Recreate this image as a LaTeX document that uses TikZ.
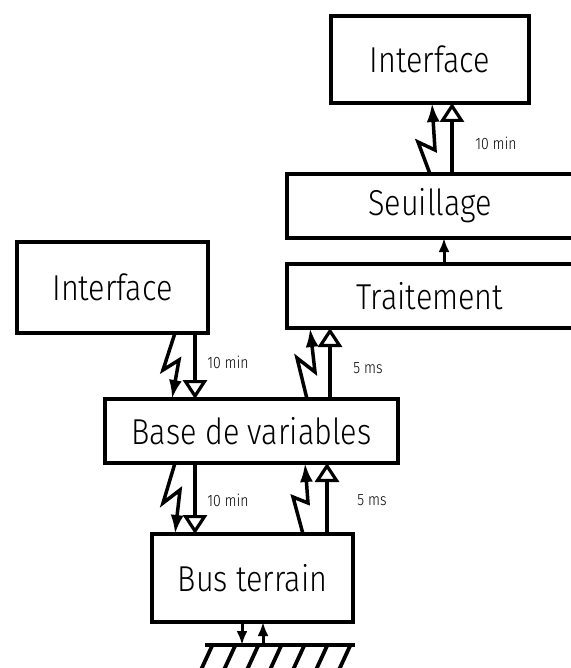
\documentclass[tikz,border=0pt]{standalone}
\usepackage{fontspec}
\setmainfont{Fira Sans}[UprightFont=* Light, FakeStretch=0.85]
\usetikzlibrary{arrows.meta,calc}
\begin{document}
\begin{tikzpicture}[x=1pt,y=-1pt,
  box/.style={draw,line width=4pt,rectangle,inner sep=0pt,outer sep=0pt,
    font=\fontsize{36}{40}\selectfont},
  openbox/.style={rectangle,inner sep=0pt,outer sep=0pt,
    font=\fontsize{36}{40}\selectfont},
  sideline/.style={line width=4pt,line cap=rect},
  bolt/.style={line width=3.5pt,line join=miter,-{Latex[length=19pt,width=13pt]}},
  hollow/.style={line width=3.2pt,-{Triangle[open,length=19pt,width=24pt,fill=white]}},
  small/.style={line width=3pt,-{Latex[length=14pt,width=11pt]}},
  lab/.style={font=\fontsize{16.5}{18}\selectfont,inner sep=0pt},
  ground/.style={line width=4pt},
  hatch/.style={line width=3.8pt}]
\useasboundingbox (0,0) rectangle (570,668);
% boxes
\node[box,minimum width=198pt,minimum height=87pt] (itop) at (430,59.5) {Interface};
\node[openbox,minimum width=286pt,minimum height=64pt] (seu) at (430,206) {Seuillage};
\node[openbox,minimum width=286pt,minimum height=64pt] (tra) at (430,296) {Traitement};
\draw[sideline] ([xshift=20]seu.north east) -- (seu.north west) -- (seu.south west) -- ([xshift=20]seu.south east);
\draw[sideline] ([xshift=20]tra.north east) -- (tra.north west) -- (tra.south west) -- ([xshift=20]tra.south east);
\node[box,minimum width=191pt,minimum height=91pt] (ileft) at (112.5,287.5) {Interface};
\node[box,minimum width=293pt,minimum height=64pt] (base) at (251.5,431) {Base de variables};
\node[box,minimum width=201pt,minimum height=88pt] (bus) at (252.5,578) {Bus terrain};
% Seuillage -> Interface
\draw[bolt] (seu.north) -- (418,142) -- (435,150) -- ([xshift=2]itop.south);
\draw[hollow] ([xshift=22]seu.north) -- ([xshift=22]itop.south);
\node[lab] (l1) at (496,143) {10 min};
% Traitement -> Seuillage
\draw[small] ([xshift=14]tra.north) -- ([xshift=14]seu.south);
% Interface -> Base
\draw[bolt] ([xshift=62.5]ileft.south) -- (163,370) -- (179,360) -- ([xshift=-79.5]base.north);
\draw[hollow] ([xshift=82.5]ileft.south) -- ([xshift=-56.5]base.north);
\node[lab] (l2) at (228,362) {10 min};
% Base -> Traitement
\draw[bolt] ([xshift=55.5]base.north) -- (297,358) -- (315,372) -- ([xshift=-120]tra.south);
\draw[hollow] ([xshift=78.5]base.north) -- ([xshift=-100]tra.south);
\node[lab] (l3) at (368,368) {5 ms};
% Base -> Bus
\draw[bolt] ([xshift=-76.5]base.south) -- (163,503) -- (180,490) -- ([xshift=-77.5]bus.north);
\draw[hollow] ([xshift=-56.5]base.south) -- ([xshift=-57.5]bus.north);
\node[lab] (l4) at (228,500) {10 min};
% Bus -> Base
\draw[bolt] ([xshift=50.5]bus.north) -- (293,497) -- (308,503) -- ([xshift=53.5]base.south);
\draw[hollow] ([xshift=74.5]bus.north) -- ([xshift=75.5]base.south);
\node[lab] (l5) at (372,500) {5 ms};
% ground
\coordinate (gl) at (205,645);
\coordinate (gr) at (355,645);
\coordinate (g1) at (242,645);
\coordinate (g2) at (263,645);
\draw[ground] (gl) -- (gr);
\begin{scope}
\clip (0,646) rectangle (570,668);
\foreach \x in {212,235,258,281,304,327,350}
  \draw[hatch] (\x-12,672) -- (\x,646);
\end{scope}
\draw[small] ([xshift=-10.5]bus.south) -- (g1);
\draw[small] (g2) -- ([xshift=10.5]bus.south);
\end{tikzpicture}
\end{document}
